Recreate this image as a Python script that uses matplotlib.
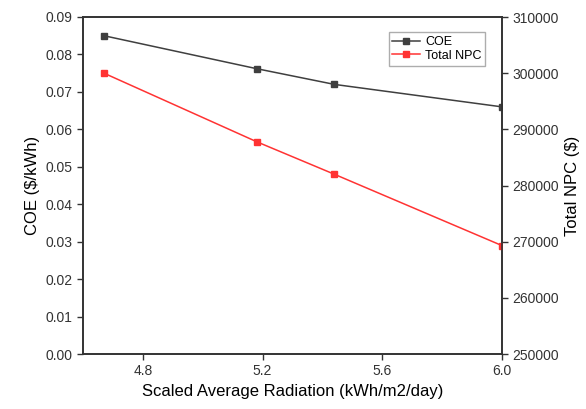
import numpy as np
import matplotlib.pyplot as plt

plt.rcParams['font.family'] = ['Liberation Sans', 'DejaVu Sans']

radiation = [4.67, 5.18, 5.44, 6.0]
coe = [0.085, 0.0762, 0.072, 0.066]
npc = [300000, 287800, 282000, 269300]

fig = plt.figure(figsize=(5.86, 4.09), dpi=100)
ax = fig.add_axes([83/586, 1 - 354/409, (502-83)/586, (354-17)/409])
ax2 = ax.twinx()

l1, = ax.plot(radiation, coe, color='#3f3f3f', marker='s', markersize=5, lw=1.1, label='COE')
l2, = ax2.plot(radiation, npc, color='#ff3333', marker='s', markersize=5, lw=1.1, label='Total NPC')

ax.set_xlim(4.6, 6.0)
ax.set_ylim(0, 0.09)
ax2.set_ylim(250000, 310000)
ax.set_xticks([4.8, 5.2, 5.6, 6.0])
ax.set_yticks(np.arange(0, 0.091, 0.01))
ax.yaxis.set_major_formatter(plt.FormatStrFormatter('%.2f'))
ax2.set_yticks(np.arange(250000, 310001, 10000))
ax2.yaxis.set_major_formatter(plt.FormatStrFormatter('%d'))

for a in (ax, ax2):
    a.tick_params(direction='out', length=4, width=1, labelsize=10, colors='#333333')
    for s in a.spines.values():
        s.set_linewidth(1.2)
        s.set_color('#333333')

ax.set_xlabel('Scaled Average Radiation (kWh/m2/day)', fontsize=12)
ax.set_ylabel('COE ($/kWh)', fontsize=12)
ax2.set_ylabel('Total NPC ($)', fontsize=12)

leg = ax.legend(handles=[l1, l2], loc='upper right', bbox_to_anchor=(0.96, 0.955),
                fontsize=9, frameon=True, fancybox=False, edgecolor='#999999',
                handlelength=2.2, borderpad=0.3, labelspacing=0.15,
                handletextpad=0.4, borderaxespad=0)

fig.savefig('out.png', dpi=100)
